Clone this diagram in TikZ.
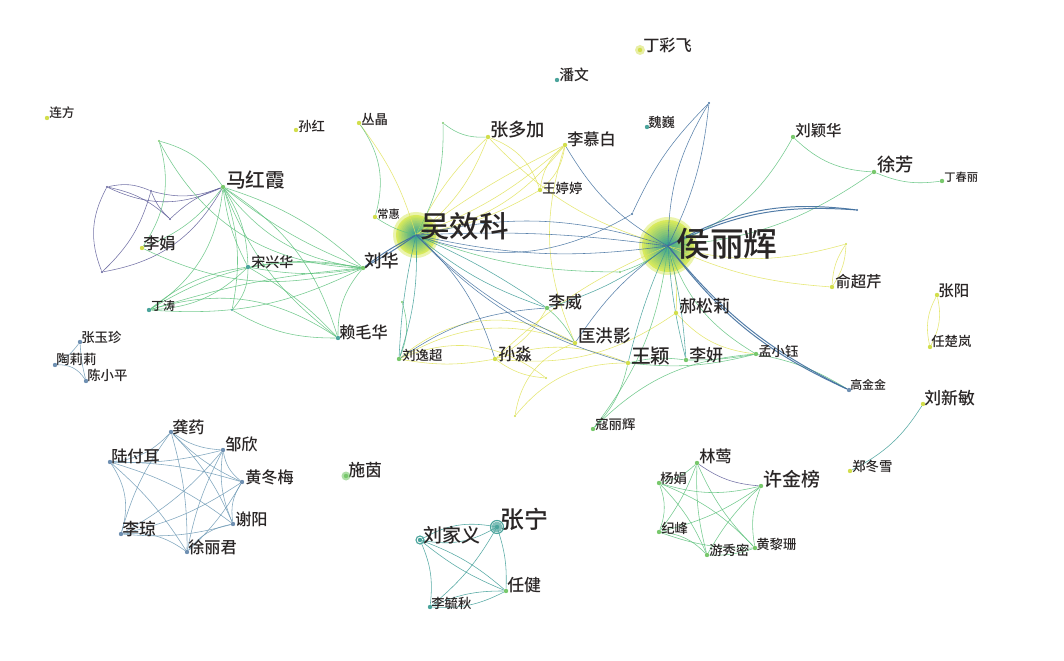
\documentclass[tikz,border=0pt]{standalone}
\usepackage{fontspec}
\setmainfont{Noto Sans CJK SC Medium}
\definecolor{txt}{HTML}{2A2626}
\definecolor{cY}{HTML}{E2E35A}
\definecolor{cG}{HTML}{5DC27C}
\definecolor{cT}{HTML}{3B9C96}
\definecolor{cB}{HTML}{3F6E9E}
\definecolor{cP}{HTML}{5C5B98}
\definecolor{cS}{HTML}{6B98B4}
\definecolor{hubY}{HTML}{D8EA5C}
\definecolor{hubT}{HTML}{2A9C96}
\definecolor{dG}{HTML}{78C86C}
\definecolor{dY}{HTML}{D2DE4C}
\definecolor{dT}{HTML}{4BA49C}
\definecolor{dB}{HTML}{6F90B2}
\pgfdeclarelayer{bg}
\pgfsetlayers{bg,main}

\begin{document}
\begin{tikzpicture}[x=0.025cm, y=-0.025cm,
  pnt/.style={circle, fill=#1, inner sep=0pt, minimum size=1.1mm},
  jn/.style={circle, fill=#1, inner sep=0pt, minimum size=0.6mm},
  lab/.style={anchor=west, inner sep=0pt, text=txt},
  e/.style={draw=#1, line width=0.4pt, opacity=0.85},
  ethick/.style={draw=#1, line width=0.7pt, opacity=0.9}]

\useasboundingbox (0,0) rectangle (1064,661);

% Background and the two hubs
\begin{pgfonlayer}{bg}
\fill[white] (0,0) rectangle (1064,661);
\fill[hubY, opacity=0.5] (416,235) circle (23);
\foreach \i in {0,...,12} {
  \pgfmathsetmacro\rr{20*(1-\i/13)}
  \pgfmathtruncatemacro\pp{\i*8}
  \fill[hubT!\pp!hubY] (416,235) circle (\rr);
}
\fill[hubY, opacity=0.5] (668,246) circle (29);
\foreach \i in {0,...,12} {
  \pgfmathsetmacro\rr{26*(1-\i/13)}
  \pgfmathtruncatemacro\pp{\i*8}
  \fill[hubT!\pp!hubY] (668,246) circle (\rr);
}
\end{pgfonlayer}

\coordinate (wxk) at (416,235);
\coordinate (hlh) at (668,246);
\node[lab, font=\fontsize{21}{21}\selectfont] (wxk-t) at (420,226) {吴效科};
\node[lab, font=\fontsize{24}{24}\selectfont] (hlh-t) at (676,244) {侯丽辉};

% Authors: id / x / y / dot colour / font size / label x / label y / name
\foreach \id/\x/\y/\c/\s/\tx/\ty/\t in {
  lf/47/118/dY/9/49/113/连方,
  sh/296/130/dY/9.5/298/126/孙红,
  cj/359/123/dY/9.5/361/119/丛晶,
  dcf/640/50/dY/11.5/643/45/丁彩飞,
  pw/557/80/dT/10.5/559/75/潘文,
  ww/647/127/dT/9.5/648/122/魏巍,
  zdj/488/137/dY/13/490/130/张多加,
  lmb/565/145/dY/11.5/567/139/李慕白,
  wtt/540/190/dY/9.5/542/188/王婷婷,
  ch/375/217/dY/8/377/214/常惠,
  lyh/793/137/dG/11/795/131/刘颖华,
  xf/874/172/dG/13/877/165/徐芳,
  dcl/942/181/dG/8/944/177/丁春丽,
  ycq/832/287/dY/11/835/282/俞超芹,
  zy/937/295/dY/11/938/291/张阳,
  rcl/930/347/dY/9.5/931/341/任楚岚,
  gjj/849/390/dB/8.5/850/385/高金金,
  lxm/923/404/dY/12/924/398/刘新敏,
  zdx/850/471/dY/9.5/852/466/郑冬雪,
  mhx/223/187/dG/14/226/180/马红霞,
  lj/142/248/dY/11.5/143/243/李娟,
  sxh/248/267/dT/10/251/262/宋兴华,
  lh/363/268/dG/12.5/364/261/刘华,
  dt/149/310/dT/8.5/151/306/丁涛,
  lmh/338/338/dT/11.5/339/332/赖毛华,
  zyz/80/342/dB/9.5/81/337/张玉珍,
  tll/55/365/dB/9.5/56/359/陶莉莉,
  cxp/86/381/dB/9.5/87/375/陈小平,
  lwei/547/308/dG/12/548/302/李威,
  hsl/676/313/dY/12/679/306/郝松莉,
  khy/575/343/dY/12.5/578/336/匡洪影,
  lyc/399/359/dG/9.5/402/355/刘逸超,
  sm/495/359/dY/12/498/354/孙淼,
  wy/628/363/dY/14/631/356/王颖,
  lyan/686/360/dG/12/689/355/李妍,
  mxy/756/354/dG/9.5/758/351/孟小钰,
  khl/593/429/dG/9.5/595/424/寇丽辉,
  gy/171/432/dB/11.5/172/427/龚药,
  zx/223/450/dB/11.5/225/444/邹欣,
  lfe/110/462/dB/11.5/111/456/陆付耳,
  hdm/242/482/dB/11.5/245/477/黄冬梅,
  syin/346/476/dG/12/348/470/施茵,
  xyang/233/524/dB/11.5/235/519/谢阳,
  lq/121/534/dB/12/122/529/李琼,
  xlj/187/552/dB/11.5/188/547/徐丽君,
  ly/697/463/dG/11.5/699/456/林莺,
  xjb/761/486/dG/13.5/763/479/许金榜,
  yj/659/483/dG/9.5/660/478/杨娟,
  jfeng/659/532/dG/9.5/661/528/纪峰,
  yxm/707/555/dG/9.5/709/550/游秀密,
  hls/755/548/dG/9.5/756/544/黄黎珊,
  zn/497/527/dT/17/500/519/张宁,
  ljy/420/540/dT/13.5/423/535/刘家义,
  rj/506/591/dG/12/507/585/任健,
  lyq/430/607/dT/9.5/431/603/李毓秋} {
  \node[pnt=\c] (\id) at (\x,\y) {};
  \node[lab, font=\fontsize{\s}{\s}\selectfont] (\id-t) at (\tx,\ty) {\t};
}

% larger rings
\fill[dT, opacity=0.7] (zn) circle (5.5);
\draw[dT, line width=0.8pt] (zn) circle (6.5);
\draw[dT, line width=0.8pt] (ljy) circle (4);
\fill[dG, opacity=0.6] (syin) circle (4.5);
\fill[dY, opacity=0.5] (dcf) circle (5);

% unlabelled junction points
\foreach \id/\x/\y/\c in {ja/159/141/dG, jb/107/187/cP, jc/151/191/cP, jd/170/219/cP,
  je/102/272/cP, jf/232/310/dT, jg/443/123/dG, jh/632/214/cB, ji/620/272/dG,
  jk/402/302/dG, jl/546/378/dY, jm/515/416/dY, jnn/857/210/cB, jo/846/244/dY, jp/709/103/cB}
  \node[jn=\c] (\id) at (\x,\y) {};

\begin{pgfonlayer}{bg}
% left group
\foreach \a/\b/\bd in {jb/mhx/-25, jb/jd/15, jc/jd/-12, jc/mhx/-18, je/jb/25, je/jc/-15,
  je/mhx/-25, jd/mhx/12, jb/jc/18}
  \draw[e=cP] (\a) to[bend left=\bd] (\b);
\foreach \a/\b/\bd in {ja/mhx/20, ja/lj/25, ja/lh/-30, mhx/lh/-22, mhx/lh/-8, mhx/lh/12,
  mhx/sxh/15, mhx/sxh/-10, mhx/dt/25, mhx/lmh/-15, mhx/lmh/20, mhx/lj/15, lj/lh/-20,
  sxh/lh/-10, sxh/lh/10, sxh/dt/20, sxh/dt/-15, sxh/lmh/8, dt/lh/-15, dt/lh/6, dt/lh/20,
  dt/lmh/25, lmh/lh/20, mhx/jf/15, jf/lmh/-15, jf/sxh/-20}
  \draw[e=cG] (\a) to[bend left=\bd] (\b);
\draw[ethick=cB] (lh) to[bend left=5] (wxk);
\draw[ethick=cB] (lh) to[bend left=-3] (wxk);

% around the two hubs
\foreach \a/\b/\bd in {cj/wxk/10, zdj/wxk/15, zdj/wxk/-10, zdj/wtt/25, zdj/hlh/-15,
  lmb/wxk/20, lmb/wxk/10, lmb/wxk/-5, lmb/wtt/20, lmb/wtt/-20, wtt/wxk/10, lmb/khy/-20,
  lwei/sm/15, lyc/sm/-10, lyc/khy/25, lyc/khy/35, lyc/jl/30, sm/jl/-15, sm/hlh/10,
  sm/wy/20, khy/jm/-30, wy/jm/-25, hsl/hlh/-10, hsl/sm/20, hsl/mxy/-20, hlh/ycq/-10,
  hlh/jo/-15, jo/ycq/15, jo/ycq/-15, zy/rcl/20, zy/rcl/-20}
  \draw[e=cY] (\a) to[bend left=\bd] (\b);
\foreach \a/\b/\bd in {ch/wxk/-10, cj/ch/25, jg/wxk/15, jg/zdj/-20, lwei/khy/10,
  hlh/ji/10, wxk/ji/-10, wy/lyan/10, wy/mxy/-10, wy/khl/15, lyan/mxy/-5, mxy/hlh/20,
  mxy/gjj/10, mxy/khl/-20, khl/hlh/-15, hlh/lyh/-20, hlh/xf/-15, lyh/xf/-20, xf/dcl/-15,
  lyc/jk/-20}
  \draw[e=cG] (\a) to[bend left=\bd] (\b);
\foreach \a/\b/\bd in {wxk/lwei/-10, wxk/lwei/5, wxk/lyc/10, wxk/lyc/-5, lwei/hlh/-10,
  lyan/hlh/5, lyan/hlh/-5, wy/hlh/5, lxm/zdx/15}
  \draw[e=cT] (\a) to[bend left=\bd] (\b);
\foreach \a/\b/\bd in {wxk/jh/-25, wxk/hlh/-10, wxk/hlh/5, wxk/hlh/15, wxk/khy/-10,
  wxk/sm/15, wxk/wy/-15, lwei/lyc/-15, khy/hlh/10, lmb/hlh/-15, jp/jh/-10, jp/hlh/10,
  jp/hlh/-15}
  \draw[e=cB] (\a) to[bend left=\bd] (\b);
\draw[ethick=cB] (hlh) to[bend left=-12] (gjj);
\draw[ethick=cB] (hlh) to[bend left=-14] (gjj);
\draw[ethick=cB] (hlh) to[bend left=15] (jnn);
\draw[ethick=cB] (hlh) to[bend left=18] (jnn);

% small groups
\foreach \a/\b/\bd in {zyz/tll/10, tll/cxp/30, zyz/cxp/-5}
  \draw[e=cS] (\a) to[bend left=\bd] (\b);
\foreach \a/\b/\bd in {lfe/gy/-20, gy/zx/-15, zx/hdm/-20, hdm/xyang/-20, xyang/xlj/-20,
  xlj/lq/-20, lq/lfe/-25, lfe/zx/-8, lfe/hdm/8, lfe/xyang/10, lfe/xlj/8, gy/hdm/-10,
  gy/xyang/10, gy/lq/-10, gy/xlj/8, zx/xyang/-15, zx/lq/10, zx/xlj/-8, hdm/lq/10,
  hdm/xlj/8, xyang/lq/10}
  \draw[e=cS] (\a) to[bend left=\bd] (\b);
\foreach \a/\b/\bd in {zn/ljy/20, zn/ljy/-20, zn/rj/10, zn/lyq/10, ljy/rj/10, ljy/rj/-8,
  ljy/lyq/15, rj/lyq/15, rj/lyq/-12}
  \draw[e=cT] (\a) to[bend left=\bd] (\b);
\foreach \a/\b/\bd in {ly/yj/15, ly/jfeng/8, ly/yxm/-8, ly/hls/-10, xjb/yj/15,
  xjb/jfeng/10, xjb/yxm/-8, xjb/hls/-15, yj/jfeng/20, yj/yxm/10, yj/hls/12,
  jfeng/yxm/20, jfeng/hls/-10, yxm/hls/-10}
  \draw[e=cG] (\a) to[bend left=\bd] (\b);
\draw[e=cP] (ly) to[bend left=-15] (xjb);
\end{pgfonlayer}

\end{tikzpicture}
\end{document}
